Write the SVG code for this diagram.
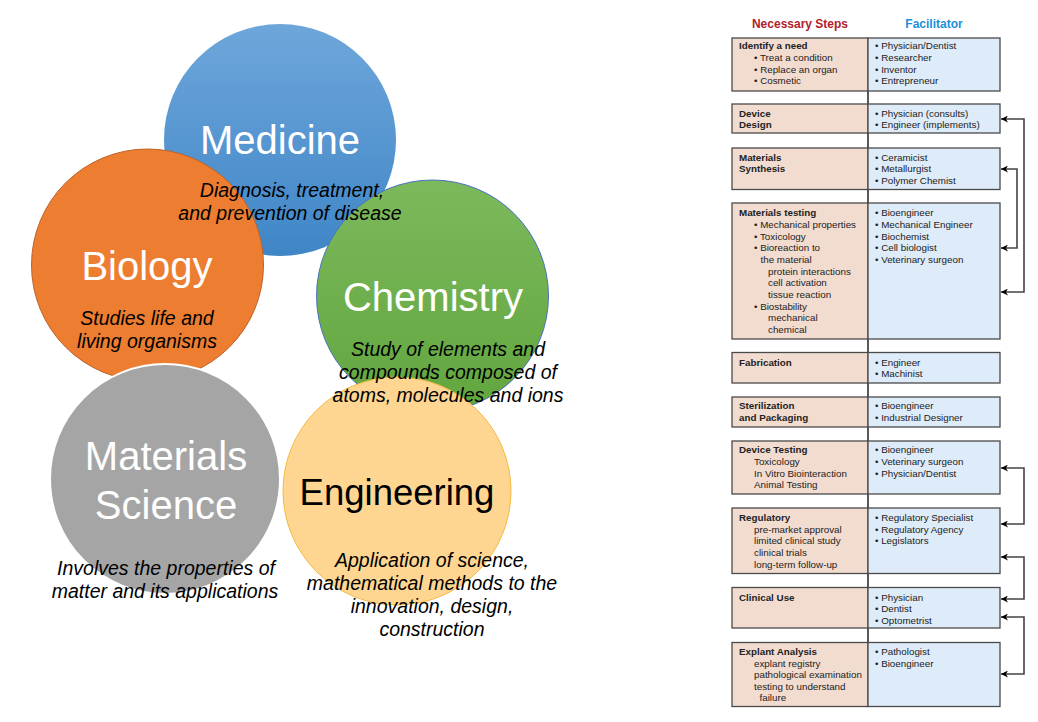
<svg xmlns="http://www.w3.org/2000/svg" width="1038" height="722" viewBox="0 0 1038 722">
<style>
.title{font-family:"Liberation Sans",Arial,sans-serif;font-size:40px;fill:#fff;text-anchor:middle}
.desc{font-family:"Liberation Sans",Arial,sans-serif;font-size:19.5px;font-style:italic;fill:#000;text-anchor:middle}
.t{font-family:"Liberation Sans",Arial,sans-serif;font-size:9.8px;fill:#222}
.b{font-weight:bold}
.lbox{fill:#f2dccf;stroke:#4a4a4a;stroke-width:1.3}
.rbox{fill:#deebf8;stroke:#4a4a4a;stroke-width:1.3}
.conn{fill:none;stroke:#444;stroke-width:1.6;marker-start:url(#ah);marker-end:url(#ah)}
.hdr{font-family:"Liberation Sans",Arial,sans-serif;font-size:12px;font-weight:bold;text-anchor:middle}
</style>
<defs>
<linearGradient id="gMed" x1="0" y1="0" x2="0" y2="1">
<stop offset="0" stop-color="#6ea6da"/><stop offset="1" stop-color="#3f86c7"/>
</linearGradient>
<linearGradient id="gChem" x1="0" y1="0" x2="0" y2="1">
<stop offset="0" stop-color="#7cb95c"/><stop offset="1" stop-color="#62a63f"/>
</linearGradient>
<marker id="ah" viewBox="0 0 10 10" refX="10" refY="5" markerWidth="9" markerHeight="7" markerUnits="userSpaceOnUse" orient="auto-start-reverse">
<path d="M0,0 L10,5 L0,10 L3,5 z" fill="#000"/>
</marker>
</defs>
<rect width="1038" height="722" fill="#fff"/>

<g id="medicine">
<circle cx="280" cy="140" r="116" fill="url(#gMed)"/>
<text class="title" x="280" y="154">Medicine</text>
</g>
<g id="biology">
<circle cx="147.5" cy="265" r="116" fill="#ed7d31" stroke="#c0622a" stroke-width="1"/>
<text class="title" x="147" y="280">Biology</text>
</g>
<g id="chemistry">
<circle cx="432.5" cy="296" r="116" fill="url(#gChem)" stroke="#4a72c0" stroke-width="1"/>
<text class="title" x="433" y="311">Chemistry</text>
</g>
<g id="materials-science">
<circle cx="165" cy="479" r="115" fill="#a5a5a5" stroke="#fff" stroke-width="2"/>
<text class="title" x="166" y="470">Materials</text>
<text class="title" x="166" y="519">Science</text>
</g>
<g id="engineering">
<circle cx="397" cy="491" r="114" fill="#fed691" stroke="#f5b942" stroke-width="1"/>
<text class="title" x="397" y="505" style="fill:#000;font-size:36.5px">Engineering</text>
</g>
<g id="descriptions">
<text class="desc" x="292" y="197">Diagnosis, treatment,</text>
<text class="desc" x="290" y="220">and prevention of disease</text>
<text class="desc" x="147" y="325">Studies life and</text>
<text class="desc" x="147" y="348">living organisms</text>
<text class="desc" x="448" y="356">Study of elements and</text>
<text class="desc" x="448" y="379">compounds composed of</text>
<text class="desc" x="448" y="402">atoms, molecules and ions</text>
<text class="desc" x="166" y="575">Involves the properties of</text>
<text class="desc" x="165" y="598">matter and its applications</text>
<text class="desc" x="432" y="567">Application of science,</text>
<text class="desc" x="432" y="590">mathematical methods to the</text>
<text class="desc" x="432" y="613">innovation, design,</text>
<text class="desc" x="432" y="636">construction</text>
</g>

<g id="headers">
<text class="hdr" x="800" y="28" fill="#b3202d">Necessary Steps</text>
<text class="hdr" x="934" y="28" fill="#1c8fd8">Facilitator</text>
</g>

<g id="connectors">
<line x1="868" y1="38" x2="868" y2="706.5" stroke="#000" stroke-width="1.3"/>
<path class="conn" d="M1001,119 H1024 V292 H1001"/>
<path class="conn" d="M1001,169 H1017 V248 H1001"/>
<path class="conn" d="M1001,468 H1024 V524 H1001"/>
<path class="conn" d="M1001,557 H1024 V599 H1001"/>
<path class="conn" d="M1001,617 H1024 V674 H1001"/>
</g>

<g id="step-identify">
<rect class="lbox" x="732" y="38" width="136" height="53"/>
<rect class="rbox" x="868" y="38" width="132" height="53"/>
<text class="t b" x="739" y="49.3">Identify a need</text>
<text class="t" x="754" y="61">• Treat a condition</text>
<text class="t" x="754" y="72.7">• Replace an organ</text>
<text class="t" x="754" y="84.3">• Cosmetic</text>
<text class="t" x="875" y="49.3">• Physician/Dentist</text>
<text class="t" x="875" y="61">• Researcher</text>
<text class="t" x="875" y="72.7">• Inventor</text>
<text class="t" x="875" y="84.3">• Entrepreneur</text>
</g>
<g id="step-device-design">
<rect class="lbox" x="732" y="104" width="136" height="29"/>
<rect class="rbox" x="868" y="104" width="132" height="29"/>
<text class="t b" x="739" y="116.5">Device</text>
<text class="t b" x="739" y="128">Design</text>
<text class="t" x="875" y="116.5">• Physician (consults)</text>
<text class="t" x="875" y="128">• Engineer (implements)</text>
</g>
<g id="step-materials-synthesis">
<rect class="lbox" x="732" y="148" width="136" height="41.5"/>
<rect class="rbox" x="868" y="148" width="132" height="41.5"/>
<text class="t b" x="739" y="160.5">Materials</text>
<text class="t b" x="739" y="172.3">Synthesis</text>
<text class="t" x="875" y="160.5">• Ceramicist</text>
<text class="t" x="875" y="172.3">• Metallurgist</text>
<text class="t" x="875" y="184">• Polymer Chemist</text>
</g>
<g id="step-materials-testing">
<rect class="lbox" x="732" y="203" width="136" height="136"/>
<rect class="rbox" x="868" y="203" width="132" height="136"/>
<text class="t b" x="739" y="216">Materials testing</text>
<text class="t" x="754" y="228">• Mechanical properties</text>
<text class="t" x="754" y="239.7">• Toxicology</text>
<text class="t" x="754" y="251.3">• Bioreaction to</text>
<text class="t" x="760.5" y="263">the material</text>
<text class="t" x="768" y="274.7">protein interactions</text>
<text class="t" x="768" y="286.3">cell activation</text>
<text class="t" x="768" y="298">tissue reaction</text>
<text class="t" x="754" y="309.7">• Biostability</text>
<text class="t" x="768" y="321.3">mechanical</text>
<text class="t" x="768" y="333">chemical</text>
<text class="t" x="875" y="216">• Bioengineer</text>
<text class="t" x="875" y="228">• Mechanical Engineer</text>
<text class="t" x="875" y="239.7">• Biochemist</text>
<text class="t" x="875" y="251.3">• Cell biologist</text>
<text class="t" x="875" y="263">• Veterinary surgeon</text>
</g>
<g id="step-fabrication">
<rect class="lbox" x="732" y="352.5" width="136" height="30.5"/>
<rect class="rbox" x="868" y="352.5" width="132" height="30.5"/>
<text class="t b" x="739" y="365.5">Fabrication</text>
<text class="t" x="875" y="365.5">• Engineer</text>
<text class="t" x="875" y="376.8">• Machinist</text>
</g>
<g id="step-sterilization">
<rect class="lbox" x="732" y="397" width="136" height="30"/>
<rect class="rbox" x="868" y="397" width="132" height="30"/>
<text class="t b" x="739" y="409">Sterilization</text>
<text class="t b" x="739" y="421">and Packaging</text>
<text class="t" x="875" y="409">• Bioengineer</text>
<text class="t" x="875" y="421">• Industrial Designer</text>
</g>
<g id="step-device-testing">
<rect class="lbox" x="732" y="441" width="136" height="53"/>
<rect class="rbox" x="868" y="441" width="132" height="53"/>
<text class="t b" x="739" y="453">Device Testing</text>
<text class="t" x="754" y="464.8">Toxicology</text>
<text class="t" x="754" y="476.5">In Vitro Biointeraction</text>
<text class="t" x="754" y="488">Animal Testing</text>
<text class="t" x="875" y="453">• Bioengineer</text>
<text class="t" x="875" y="464.8">• Veterinary surgeon</text>
<text class="t" x="875" y="476.5">• Physician/Dentist</text>
</g>
<g id="step-regulatory">
<rect class="lbox" x="732" y="508" width="136" height="65.5"/>
<rect class="rbox" x="868" y="508" width="132" height="65.5"/>
<text class="t b" x="739" y="521">Regulatory</text>
<text class="t" x="754" y="532.5">pre-market approval</text>
<text class="t" x="754" y="544">limited clinical study</text>
<text class="t" x="754" y="555.5">clinical trials</text>
<text class="t" x="754" y="567.5">long-term follow-up</text>
<text class="t" x="875" y="521">• Regulatory Specialist</text>
<text class="t" x="875" y="532.5">• Regulatory Agency</text>
<text class="t" x="875" y="544">• Legislators</text>
</g>
<g id="step-clinical-use">
<rect class="lbox" x="732" y="587.5" width="136" height="40.5"/>
<rect class="rbox" x="868" y="587.5" width="132" height="40.5"/>
<text class="t b" x="739" y="600.5">Clinical Use</text>
<text class="t" x="875" y="600.5">• Physician</text>
<text class="t" x="875" y="612">• Dentist</text>
<text class="t" x="875" y="623.7">• Optometrist</text>
</g>
<g id="step-explant">
<rect class="lbox" x="732" y="642.5" width="136" height="64"/>
<rect class="rbox" x="868" y="642.5" width="132" height="64"/>
<text class="t b" x="739" y="654.8">Explant Analysis</text>
<text class="t" x="754" y="666.5">explant registry</text>
<text class="t" x="754" y="678">pathological examination</text>
<text class="t" x="754" y="689.5">testing to understand</text>
<text class="t" x="759.5" y="701.3">failure</text>
<text class="t" x="875" y="654.8">• Pathologist</text>
<text class="t" x="875" y="666.5">• Bioengineer</text>
</g>
</svg>
